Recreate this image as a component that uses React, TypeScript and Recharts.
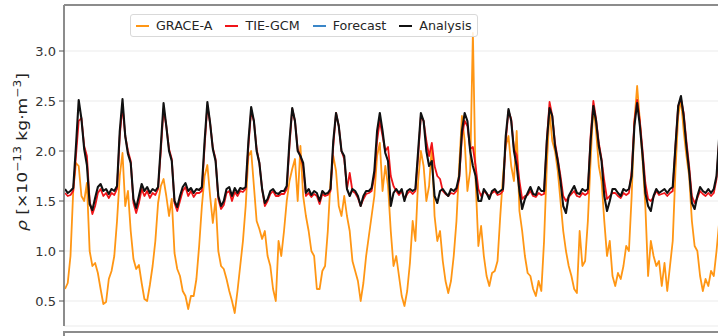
import React from 'react';
import { LineChart, Line, XAxis, YAxis, CartesianGrid, ReferenceLine } from 'recharts';

// density in 1e-13 kg/m^3, one sample every 6 minutes over one day
const GRACE_A = [
  0.62, 0.68, 0.95, 1.60, 1.88, 1.85, 1.55, 1.50, 1.68, 1.00,
  0.85, 0.88, 0.78, 0.62, 0.47, 0.49, 0.72, 0.80, 0.95, 1.30,
  1.75, 1.98, 1.45, 1.60, 1.20, 0.92, 0.82, 0.86, 0.68, 0.52,
  0.50, 0.66, 0.85, 1.10, 1.48, 1.65, 1.72, 1.55, 1.35, 1.52,
  0.98, 0.82, 0.75, 0.60, 0.55, 0.42, 0.55, 0.55, 0.72, 1.05,
  1.45, 1.75, 1.86, 1.55, 1.28, 1.52, 1.00, 0.85, 0.82, 0.72,
  0.60, 0.50, 0.38, 0.60, 0.85, 1.10, 1.45, 1.95, 2.00, 1.65,
  1.30, 1.22, 1.12, 1.20, 0.95, 0.85, 0.62, 0.50, 1.10, 0.95,
  1.20, 1.50, 1.70, 1.82, 1.92, 1.50, 2.05, 1.55, 1.35, 1.20,
  1.00, 0.95, 0.62, 0.62, 0.80, 0.85, 1.20, 1.70, 1.95, 1.80,
  1.45, 1.35, 1.55, 1.35, 1.20, 0.90, 0.80, 0.70, 0.50, 0.68,
  0.95, 1.15, 1.35, 1.55, 1.95, 2.08, 1.60, 1.85, 1.65, 1.20,
  0.85, 0.95, 0.75, 0.55, 0.45, 0.60, 0.88, 1.30, 1.10, 1.70,
  2.00, 1.85, 1.50, 1.65, 2.05, 1.35, 1.10, 1.20, 0.90, 0.70,
  0.58, 0.70, 0.95, 1.30, 1.85, 2.35, 2.10, 1.60, 1.80, 3.18,
  1.70, 1.05, 1.25, 0.95, 0.75, 0.65, 0.78, 0.80, 0.90, 1.35,
  1.75, 2.05, 2.15, 1.85, 1.70, 2.20, 1.40, 1.20, 0.95, 0.78,
  0.75, 0.62, 0.55, 0.70, 0.60, 1.10, 1.85, 2.40, 2.10, 2.00,
  1.80, 1.50, 1.20, 1.00, 0.85, 0.75, 0.62, 0.58, 1.20, 0.85,
  0.90, 1.30, 1.90, 2.45, 2.20, 1.85, 1.70, 1.30, 0.95, 1.10,
  0.75, 0.65, 0.78, 0.72, 0.85, 1.05, 1.00, 1.55, 2.30, 2.65,
  2.30, 1.90, 1.45, 0.75, 1.10, 0.95, 0.85, 0.90, 0.65, 0.88,
  0.60, 0.85, 1.10, 1.80, 2.35, 2.52, 2.20, 1.95, 1.75, 1.30,
  1.05, 1.00, 0.75, 0.60, 0.72, 0.65, 0.80, 0.75, 1.00, 1.30,
  1.70,
];

const TIE_GCM = [
  1.58, 1.55, 1.56, 1.60, 1.95, 2.30, 2.33, 2.05, 1.95, 1.50,
  1.37, 1.45, 1.58, 1.62, 1.55, 1.58, 1.53, 1.58, 1.56, 1.62,
  2.15, 2.45, 2.15, 2.00, 1.90, 1.48, 1.38, 1.48, 1.62, 1.55,
  1.60, 1.53, 1.58, 1.56, 1.62, 2.00, 2.42, 2.25, 2.02, 1.92,
  1.48, 1.40, 1.50, 1.60, 1.64, 1.55, 1.60, 1.54, 1.58, 1.58,
  1.60, 2.05, 2.45, 2.28, 2.03, 1.92, 1.52, 1.42, 1.46, 1.58,
  1.60, 1.50, 1.59, 1.55, 1.60, 1.59, 1.62, 2.05, 2.40, 2.30,
  2.02, 1.88, 1.62, 1.45, 1.50, 1.57, 1.60, 1.55, 1.55, 1.57,
  1.57, 1.62, 2.05, 2.42, 2.30, 2.02, 1.95, 1.85, 1.55, 1.58,
  1.54, 1.57, 1.55, 1.47, 1.57, 1.55, 1.56, 1.60, 2.05, 2.38,
  2.25, 2.00, 1.92, 1.62, 1.78, 1.60, 1.58, 1.53, 1.45, 1.52,
  1.57, 1.58, 1.60, 1.75, 2.10, 2.30, 2.15, 2.00, 2.04, 1.75,
  1.65, 1.60, 1.56, 1.60, 1.52, 1.57, 1.60, 1.57, 1.60, 1.95,
  2.35, 2.30, 2.10, 1.95, 2.08, 1.85, 1.75, 1.72, 1.60, 1.57,
  1.55, 1.58, 1.57, 1.60, 1.72, 2.15, 2.30, 2.25, 2.02, 2.04,
  1.85, 1.62, 1.55, 1.60, 1.57, 1.55, 1.58, 1.60, 1.56, 1.57,
  1.60, 2.10, 2.40, 2.32, 2.02, 1.96, 1.70, 1.52, 1.55, 1.56,
  1.60, 1.55, 1.54, 1.58, 1.56, 1.57, 2.10, 2.49, 2.35, 2.08,
  1.92, 1.75, 1.55, 1.50, 1.54, 1.57, 1.60, 1.55, 1.54, 1.58,
  1.56, 1.58, 2.15, 2.50, 2.32, 2.08, 1.92, 1.70, 1.52, 1.55,
  1.58, 1.58, 1.55, 1.53, 1.58, 1.56, 1.58, 1.80, 2.30, 2.51,
  2.30, 2.00, 1.68, 1.52, 1.50, 1.54, 1.60, 1.56, 1.57, 1.58,
  1.55, 1.58, 1.60, 2.05, 2.45, 2.52, 2.38, 2.10, 1.85, 1.55,
  1.48, 1.53, 1.60, 1.57, 1.55, 1.58, 1.55, 1.58, 1.72, 2.12,
  2.48,
];

const ANALYSIS = [
  1.62, 1.58, 1.60, 1.63, 2.05, 2.51, 2.32, 2.02, 1.86, 1.47,
  1.41, 1.53, 1.64, 1.67, 1.60, 1.62, 1.57, 1.62, 1.60, 1.65,
  2.20, 2.52, 2.15, 1.97, 1.88, 1.52, 1.43, 1.55, 1.67, 1.60,
  1.64, 1.58, 1.62, 1.60, 1.64, 2.05, 2.48, 2.25, 2.00, 1.90,
  1.50, 1.44, 1.55, 1.64, 1.68, 1.60, 1.63, 1.58, 1.62, 1.61,
  1.64, 2.10, 2.49, 2.28, 2.02, 1.90, 1.55, 1.45, 1.50, 1.62,
  1.64, 1.55, 1.63, 1.58, 1.63, 1.62, 1.64, 2.10, 2.44, 2.30,
  2.00, 1.88, 1.62, 1.48, 1.52, 1.60, 1.62, 1.58, 1.57, 1.60,
  1.60, 1.65, 2.10, 2.43, 2.30, 2.00, 1.95, 1.88, 1.58, 1.62,
  1.56, 1.60, 1.58, 1.50, 1.60, 1.57, 1.58, 1.62, 2.10, 2.38,
  2.25, 2.00, 1.95, 1.62, 1.55, 1.62, 1.60, 1.55, 1.45, 1.55,
  1.60, 1.60, 1.63, 1.80, 2.20, 2.38, 2.20, 1.98, 1.90, 1.45,
  1.58, 1.62, 1.58, 1.62, 1.50, 1.60, 1.62, 1.60, 1.62, 2.00,
  2.38, 2.30, 2.00, 1.85, 1.90, 1.55, 1.48, 1.60, 1.62, 1.58,
  1.55, 1.62, 1.60, 1.63, 1.75, 2.20, 2.38, 2.30, 2.00, 1.85,
  1.75, 1.50, 1.50, 1.62, 1.58, 1.52, 1.60, 1.62, 1.58, 1.60,
  1.62, 2.15, 2.42, 2.30, 2.00, 1.85, 1.60, 1.42, 1.52, 1.58,
  1.64, 1.57, 1.56, 1.64, 1.60, 1.60, 2.10, 2.43, 2.35, 2.05,
  1.90, 1.70, 1.45, 1.38, 1.55, 1.60, 1.65, 1.58, 1.57, 1.62,
  1.60, 1.62, 2.10, 2.45, 2.30, 2.05, 1.90, 1.55, 1.40, 1.50,
  1.62, 1.62, 1.58, 1.55, 1.62, 1.60, 1.62, 1.75, 2.25, 2.48,
  2.25, 1.95, 1.58, 1.45, 1.40, 1.55, 1.62, 1.58, 1.60, 1.62,
  1.58, 1.62, 1.64, 2.05, 2.45, 2.55, 2.35, 2.05, 1.80, 1.48,
  1.42, 1.55, 1.64, 1.60, 1.58, 1.62, 1.58, 1.62, 1.75, 2.15,
  2.50,
];

// hours since start of day (6 min step)
const HOURS = GRACE_A.map((_, i) => i * 0.1);

const Y_TICKS = [0.5, 1.0, 1.5, 2.0, 2.5, 3.0];
const X_TICKS = [0, 3, 6, 9, 12, 15, 18, 21, 24];
const Y_DOMAIN = [0.25, 3.46];

const FONT = '"DejaVu Sans", sans-serif';
const FRAME = '#8c8c8c';

const SERIES = [
  { key: 'grace', name: 'GRACE-A', color: '#ff9614', width: 1.8 },
  { key: 'tiegcm', name: 'TIE-GCM', color: '#f01418', width: 1.8 },
  { key: 'forecast', name: 'Forecast', color: '#3a86c8', width: 1.8 },
  { key: 'analysis', name: 'Analysis', color: '#111111', width: 2.1 },
];

const data = HOURS.map((h, i) => ({
  h,
  grace: GRACE_A[i],
  tiegcm: TIE_GCM[i],
  analysis: ANALYSIS[i],
}));

function YLabel() {
  // rotated ylabel, matplotlib style
  return (
    <text
      transform="translate(22,152) rotate(-90)"
      textAnchor="middle"
      dominantBaseline="central"
      fontFamily={FONT}
      fontSize={14}
      fill="#222"
      textLength={158}
      lengthAdjust="spacingAndGlyphs"
    >
      <tspan fontStyle="italic">ρ</tspan>
      <tspan>{'\u00a0[\u00d710'}</tspan>
      <tspan dy={-5} fontSize={10}>−13</tspan>
      <tspan dy={5}>{'\u00a0kg·m'}</tspan>
      <tspan dy={-5} fontSize={10}>−3</tspan>
      <tspan dy={5}>]</tspan>
    </text>
  );
}

function LegendBox() {
  return (
    <div style={{
      display: 'flex', alignItems: 'center', height: 23, boxSizing: 'border-box',
      padding: '0 5px', border: '1px solid #d9d9d9', borderRadius: 3,
      background: 'rgba(255,255,255,0.85)', fontFamily: FONT, fontSize: 12.7, color: '#262626',
    }}>
      {SERIES.map((s, i) => (
        <span key={s.key} style={{ display: 'flex', alignItems: 'center', marginRight: i < SERIES.length - 1 ? 13 : 0 }}>
          <span style={{ width: 13, height: 0, borderTop: `2px solid ${s.color}`, marginRight: 7 }} />
          {s.name}
        </span>
      ))}
    </div>
  );
}

export default function App() {
  return (
    <div style={{ position: 'absolute', left: 0, top: 0, width: 718, height: 336, overflow: 'hidden', background: '#fff' }}>
      <LineChart width={730} height={336} data={data} margin={{ top: 5, right: 8, bottom: 10, left: 0 }}>
        <CartesianGrid stroke="#ebebeb" strokeWidth={1} />
        <XAxis dataKey="h" type="number" domain={[-0.037, 24]} ticks={X_TICKS} allowDataOverflow
          tick={false} axisLine={false} tickLine={false} height={0} />
        <YAxis width={64} domain={Y_DOMAIN} ticks={Y_TICKS} allowDataOverflow
          tickFormatter={(v: number) => v.toFixed(1)}
          tick={{ fontSize: 13, fill: '#333', fontFamily: FONT }}
          tickSize={5} tickMargin={3}
          axisLine={{ stroke: FRAME, strokeWidth: 2 }} tickLine={{ stroke: '#555' }}
          label={<YLabel />} />
        <ReferenceLine y={Y_DOMAIN[1]} stroke={FRAME} strokeWidth={2} />
        {SERIES.filter(s => s.key !== 'forecast').map(s => (
          <Line key={s.key} type="linear" dataKey={s.key} name={s.name} stroke={s.color}
            strokeWidth={s.width} dot={false} isAnimationActive={false} strokeLinejoin="round" />
        ))}
      </LineChart>
      <div style={{ position: 'absolute', left: 130, top: 14 }}>
        <LegendBox />
      </div>
      {/* top edge of the panel below */}
      <div style={{ position: 'absolute', left: 63, top: 331, width: 700, height: 20, borderTop: `2px solid ${FRAME}`, borderLeft: `2px solid ${FRAME}` }} />
    </div>
  );
}
